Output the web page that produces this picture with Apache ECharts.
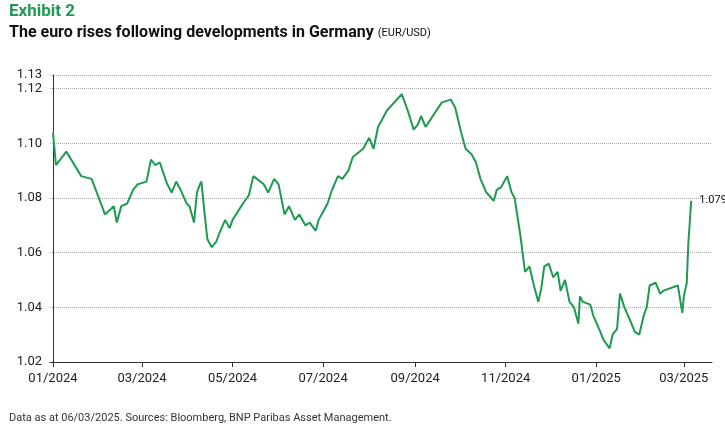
<!DOCTYPE html>
<html><head><meta charset="utf-8">
<script src="https://cdn.jsdelivr.net/npm/echarts@6/dist/echarts.min.js"></script>
<style>html,body{margin:0;padding:0;background:#fff}#main{width:725px;height:428px}</style>
</head><body><div id="main"></div>
<script>
// days since 01/01/2024
var dayOffset = [0,2,9,19,26,33,35,41,43,46,50,54,57,63,66,69,72,77,80,83,86,90,92,95,97,99,100,102,104,107,110,112,116,119,121,128,132,135,142,145,149,152,156,159,163,166,170,173,177,179,182,185,188,192,195,199,202,209,213,216,219,225,235,239,243,246,248,251,262,268,271,275,278,282,285,288,292,297,299,302,306,309,311,315,318,321,324,327,329,331,334,337,340,342,345,348,351,354,355,357,362,364,368,371,375,377,380,382,385,389,392,395,398,400,402,406,409,411,421,424,425,427,428,430];
var eurusd = [1.104,1.092,1.097,1.088,1.087,1.077,1.074,1.077,1.071,1.077,1.078,1.083,1.085,1.086,1.094,1.092,1.093,1.085,1.082,1.086,1.083,1.078,1.077,1.071,1.082,1.085,1.086,1.075,1.065,1.062,1.064,1.067,1.072,1.069,1.072,1.078,1.081,1.088,1.085,1.082,1.087,1.085,1.074,1.077,1.072,1.074,1.070,1.071,1.068,1.072,1.075,1.078,1.083,1.088,1.087,1.090,1.095,1.098,1.102,1.098,1.106,1.112,1.118,1.112,1.105,1.107,1.110,1.106,1.115,1.116,1.113,1.104,1.098,1.096,1.093,1.087,1.082,1.079,1.083,1.084,1.088,1.082,1.080,1.066,1.053,1.055,1.048,1.042,1.047,1.055,1.056,1.051,1.053,1.046,1.050,1.042,1.040,1.034,1.044,1.042,1.041,1.037,1.032,1.028,1.025,1.030,1.032,1.045,1.040,1.035,1.031,1.030,1.037,1.040,1.048,1.049,1.045,1.046,1.048,1.038,1.044,1.049,1.063,1.079,1.0834];
// month starts as days since 01/01/2024
var tickDays = [0,60,121,182,244,305,366,425];
var tickLabels = ['01/2024','03/2024','05/2024','07/2024','09/2024','11/2024','01/2025','03/2025'];

var seriesData = dayOffset.map(function(d,i){ return [d, eurusd[i]]; });

var myChart = echarts.init(document.getElementById('main'));
var option = {
    animation:false,
    textStyle:{fontFamily:'Roboto'},
    title:[
        {text:'Exhibit 2',left:4,top:-2,textStyle:{color:'#1f9a52',fontSize:17,fontWeight:'bold'}},
        {text:'The euro rises following developments in Germany {s|(EUR/USD)}',left:4,top:20,
         textStyle:{color:'#111',fontSize:16,fontWeight:'bold',rich:{s:{fontSize:11,color:'#111',fontWeight:'normal'}}}},
        {text:'Data as at 06/03/2025. Sources: Bloomberg, BNP Paribas Asset Management.',left:4,top:408,
         textStyle:{color:'#333',fontSize:11,fontWeight:'normal'}}
    ],
    grid:{left:50,right:13,top:75,bottom:66},
    xAxis:{
        type:'value',min:-2,max:444,
        axisLine:{lineStyle:{color:'#333'}},
        axisTick:{show:true,customValues:tickDays,lineStyle:{color:'#333'}},
        splitLine:{show:false},
        axisLabel:{customValues:tickDays,color:'#222',fontSize:13,margin:10,
            formatter:function(v){ var i=tickDays.indexOf(v); return i<0?'':tickLabels[i]; }}
    },
    yAxis:{
        type:'value',min:1.02,max:1.125,interval:0.02,
        axisLine:{show:true,lineStyle:{color:'#333'}},
        axisTick:{show:false},
        splitLine:{lineStyle:{color:'#aaa',type:'dotted'}},
        axisLabel:{color:'#222',fontSize:13,formatter:function(v){return v.toFixed(2);}}
    },
    series:[{
        type:'line',data:seriesData,symbol:'none',
        lineStyle:{color:'#1f9a52',width:2},
        endLabel:{show:true,color:'#111',fontSize:11,formatter:function(p){return p.value[1].toFixed(4);}}
    }]
};
myChart.setOption(option);
</script></body></html>
